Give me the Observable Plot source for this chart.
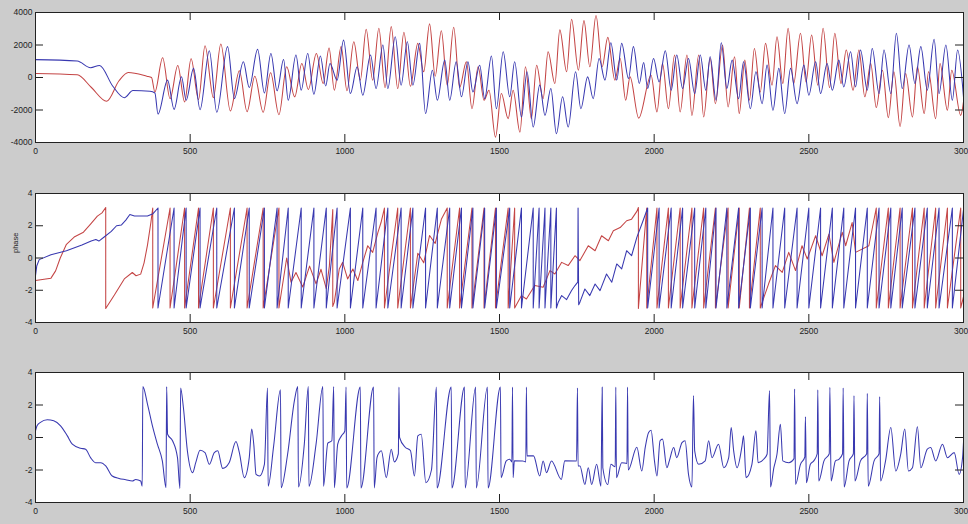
<!DOCTYPE html>
<html>
<head>
<meta charset="utf-8">
<script src="https://cdn.jsdelivr.net/npm/d3@7"></script>
<script src="https://cdn.jsdelivr.net/npm/@observablehq/plot@0.6"></script>
<style>
  html, body { margin: 0; padding: 0; background: #cccccc; }
  #fig { width: 968px; height: 524px; overflow: hidden; background: #cccccc; }
  #fig svg { display: block; }
</style>
</head>
<body>
<div id="fig"></div>
<script>
// ---------- data ----------
const xTicks = [0, 500, 1000, 1500, 2000, 2500, 3000];
const topYTicks = [-4000, -2000, 0, 2000, 4000];
const phaseYTicks = [-4, -2, 0, 2, 4];

// top panel: signal (extrema) [x, value]
const topRed = [[0,250],[135,165],[180,-600],[230,-1460],[270,-200],[300,310],[360,80],[375,0],[386,-890],[411,1215],[435,-1300],[460,740],[482,-1500],[503,1150],[527,-1360],[548,1960],[575,-1240],[599,2060],[630,-2060],[659,410],[684,-2100],[709,80],[736,-2140],[760,290],[787,-2290],[812,660],[838,-1190],[861,865],[882,-740],[908,1480],[930,-370],[949,1820],[966,-780],[988,1900],[1007,-820],[1029,2200],[1050,-160],[1069,2970],[1090,-160],[1110,3030],[1130,-620],[1150,3130],[1171,-680],[1191,2780],[1212,-540],[1236,2100],[1255,350],[1274,3300],[1292,80],[1312,2880],[1331,-470],[1352,3090],[1371,-620],[1393,970],[1411,-1920],[1431,660],[1450,-1400],[1466,-780],[1487,-3670],[1506,-990],[1528,-2530],[1544,-780],[1566,-3360],[1584,660],[1603,-2530],[1620,760],[1641,-1300],[1657,1590],[1679,-370],[1695,2930],[1717,350],[1733,3580],[1755,450],[1773,3500],[1792,660],[1812,3810],[1832,660],[1850,2470],[1873,-160],[1890,1170],[1908,-1400],[1922,40],[1950,-2500],[1990,140],[2009,-2120],[2027,865],[2046,-1920],[2066,1380],[2084,-2120],[2106,1380],[2122,-2330],[2144,1380],[2160,-2430],[2181,1170],[2198,-1610],[2221,2000],[2239,-1810],[2260,1280],[2275,-2220],[2293,1070],[2308,-1400],[2324,1790],[2343,-890],[2360,2100],[2381,-470],[2397,2510],[2416,-370],[2433,3030],[2451,-370],[2473,2720],[2491,-270],[2509,2620],[2529,-470],[2546,3030],[2567,-620],[2584,2720],[2604,-370],[2621,1690],[2643,-780],[2662,1690],[2681,-1190],[2700,865],[2718,-1850],[2738,450],[2757,-2470],[2775,350],[2795,-3010],[2813,250],[2835,-2430],[2851,660],[2873,-2220],[2887,350],[2910,-2530],[2924,865],[2948,-2020],[2962,450],[2991,-2330],[3000,-1500]];

const topBlue = [[0,1100],[135,1010],[178,600],[207,740],[250,-540],[287,-1240],[315,-800],[370,-850],[386,-950],[396,-2250],[427,-160],[448,-1960],[472,40],[487,-1400],[511,560],[532,-1980],[562,1650],[586,-2140],[621,1900],[643,-1300],[672,970],[691,-620],[718,1730],[740,-950],[761,1480],[781,-820],[802,1110],[817,-1400],[842,1380],[859,-780],[880,1480],[900,-1030],[921,1320],[938,-520],[952,865],[975,-160],[996,2300],[1018,-990],[1040,660],[1058,-1090],[1083,1380],[1101,-680],[1123,2000],[1139,-680],[1163,2510],[1182,-470],[1202,2200],[1220,-470],[1242,2100],[1261,-2220],[1283,450],[1299,-1400],[1323,1070],[1339,-1400],[1360,970],[1377,-1190],[1398,970],[1414,-890],[1436,760],[1452,-1300],[1474,1320],[1490,-1920],[1512,1590],[1533,-1190],[1549,970],[1571,-2430],[1589,350],[1609,-3050],[1630,-470],[1647,-2330],[1666,-680],[1684,-3460],[1704,-1190],[1722,-3050],[1746,350],[1763,-1920],[1785,40],[1803,-1300],[1822,1170],[1841,-160],[1860,2140],[1879,-160],[1895,2100],[1917,-60],[1933,1900],[1952,-370],[1966,920],[1979,-680],[1998,1170],[2016,-270],[2036,1650],[2055,-780],[2073,1380],[2092,-680],[2111,1170],[2131,-990],[2149,1380],[2167,-780],[2181,1280],[2200,-1400],[2217,2140],[2235,-680],[2252,1070],[2273,-1300],[2289,970],[2311,-1920],[2329,350],[2349,-1610],[2365,760],[2384,-2020],[2403,560],[2422,-2220],[2441,560],[2462,-1610],[2484,760],[2500,-1090],[2522,970],[2538,-990],[2559,865],[2576,-780],[2597,1070],[2613,-580],[2635,1590],[2651,-580],[2667,1690],[2689,-780],[2705,1790],[2727,-990],[2743,1690],[2765,-990],[2783,2720],[2802,-680],[2824,2000],[2843,-370],[2862,1900],[2883,-780],[2905,2350],[2921,-990],[2943,2000],[2964,-1400],[2981,1690],[3000,-1190]];

// middle panel: phase [x, radians]
const phaseRed = [[0,-1.4],[50,-1.25],[65,-0.8],[80,0],[100,0.85],[125,1.3],[155,1.6],[178,2.1],[200,2.6],[215,2.8],[227,3.13],[227,-3.13],[255,-2.3],[287,-1.3],[313,-0.9],[325,-1.1],[340,-1.0],[351,-0.3],[362,0.8],[373,2.2],[379,3.1],
[379,-3.1],[435,3.1],[435,-3.1],[482,3.1],[482,-3.1],[527,3.1],[527,-3.1],[575,3.1],[575,-3.1],[630,3.1],[630,-3.1],[684,3.1],[684,-3.1],[736,3.1],[736,-3.1],[787,3.1],[787,-3.1],
[812,0.0],[826,-1.5],[842,-0.9],[864,-1.8],[886,-0.5],[907,-1.6],[923,-0.7],[940,-1.9],[950,-0.5],[961,3.0],[961,-3.0],[966,-2.74],[982,-0.68],[993,-0.27],[1009,-1.3],[1026,-0.68],[1042,-1.4],[1058,-0.27],[1074,0.76],[1090,0.35],[1107,1.59],[1117,2.2],[1128,3.1],
[1128,-3.1],[1171,3.1],[1171,-3.1],[1212,3.1],[1212,-3.1],[1236,0.3],[1255,-0.3],[1274,1.4],[1292,0.9],[1312,2.4],[1331,3.1],[1331,-3.1],[1371,3.1],[1371,-3.1],[1411,3.1],[1411,-3.1],[1450,3.1],[1450,-3.1],[1487,3.1],[1487,-3.1],[1528,3.1],[1528,-3.1],[1549,3.1],[1549,-3.1],
[1571,-2.33],[1587,-2.54],[1614,-1.71],[1641,-1.81],[1663,-0.78],[1679,-0.99],[1701,-0.27],[1722,-0.47],[1744,0.14],[1760,-0.16],[1787,0.76],[1809,0.45],[1830,1.38],[1852,1.07],[1868,1.69],[1890,1.89],[1911,2.31],[1927,2.41],[1944,2.89],[1949,3.13],
[1949,-3.13],[1976,3.1],[1976,-3.1],[2009,3.1],[2009,-3.1],[2046,3.1],[2046,-3.1],[2084,3.1],[2084,-3.1],[2122,3.1],[2122,-3.1],[2160,3.1],[2160,-3.1],[2198,3.1],[2198,-3.1],[2239,3.1],[2239,-3.1],[2275,3.1],[2275,-3.1],[2308,3.1],[2308,-3.1],[2343,3.1],[2343,-3.1],
[2370,-1.6],[2392,-0.47],[2414,-0.89],[2435,0.35],[2457,-0.78],[2478,0.76],[2495,-0.06],[2522,1.38],[2543,0.14],[2565,1.48],[2581,-0.27],[2608,1.59],[2619,0.76],[2640,2.2],[2651,0.35],[2694,0.76],[2718,3.1],
[2718,-3.1],[2757,3.1],[2757,-3.1],[2795,3.1],[2795,-3.1],[2835,3.1],[2835,-3.1],[2873,3.1],[2873,-3.1],[2910,3.1],[2910,-3.1],[2948,3.1],[2948,-3.1],[2991,3.1],[2991,-3.1],[3000,-2.4]];

const phaseBlue = [[0,-1.1],[4,-0.5],[12,-0.1],[50,0.2],[100,0.45],[150,0.8],[180,1.05],[195,1.15],[205,1.05],[222,1.3],[245,1.65],[262,2.0],[278,2.05],[292,2.35],[305,2.7],[320,2.6],[362,2.6],[380,2.75],[396,3.1],
[396,-3.1],[448,3.1],[448,-3.1],[487,3.1],[487,-3.1],[532,3.1],[532,-3.1],[586,3.1],[586,-3.1],[643,3.1],[643,-3.1],[691,3.1],[691,-3.1],[740,3.1],[740,-3.1],[781,3.1],[781,-3.1],[817,3.1],[817,-3.1],[859,3.1],[859,-3.1],[900,3.1],[900,-3.1],[940,3.1],[940,-3.1],[975,3.1],[975,-3.1],[1018,3.1],[1018,-3.1],[1058,3.1],[1058,-3.1],[1101,3.1],[1101,-3.1],[1139,3.1],[1139,-3.1],[1182,3.1],[1182,-3.1],[1220,3.1],[1220,-3.1],[1261,3.1],[1261,-3.1],[1299,3.1],[1299,-3.1],[1339,3.1],[1339,-3.1],[1377,3.1],[1377,-3.1],[1414,3.1],[1414,-3.1],[1452,3.1],[1452,-3.1],[1490,3.1],[1490,-3.1],[1533,3.1],[1533,-3.1],[1571,3.1],[1571,-3.1],[1609,3.1],[1609,-3.1],[1628,3.1],[1628,-3.1],[1647,3.1],[1647,-3.1],[1666,3.1],[1666,-3.1],[1684,3.1],[1684,-3.1],
[1690,-2.74],[1701,-2.33],[1717,-2.58],[1733,-2.02],[1744,-1.71],[1753,-1.5],[1754,3.1],[1756,-2.9],[1760,-2.74],[1776,-1.92],[1792,-2.33],[1809,-1.61],[1825,-2.02],[1846,-0.99],[1863,-1.5],[1879,-0.37],[1895,-0.68],[1911,0.45],[1927,0.14],[1944,1.28],[1962,2.2],[1979,3.1],
[1979,-3.1],[2016,3.1],[2016,-3.1],[2055,3.1],[2055,-3.1],[2092,3.1],[2092,-3.1],[2131,3.1],[2131,-3.1],[2167,3.1],[2167,-3.1],[2200,3.1],[2200,-3.1],[2235,3.1],[2235,-3.1],[2273,3.1],[2273,-3.1],[2311,3.1],[2311,-3.1],[2349,3.1],[2349,-3.1],[2384,3.1],[2384,-3.1],[2422,3.1],[2422,-3.1],[2462,3.1],[2462,-3.1],[2500,3.1],[2500,-3.1],[2538,3.1],[2538,-3.1],[2576,3.1],[2576,-3.1],[2613,3.1],[2613,-3.1],[2651,3.1],[2651,-3.1],[2689,3.1],[2689,-3.1],[2727,3.1],[2727,-3.1],[2765,3.1],[2765,-3.1],[2802,3.1],[2802,-3.1],[2843,3.1],[2843,-3.1],[2883,3.1],[2883,-3.1],[2921,3.1],[2921,-3.1],[2964,3.1],[2964,-3.1],[3000,3.0]];

// bottom panel: phase difference [x, radians]
const phaseDiff = [[0,0.4],[5,0.72],[16,0.93],[38,1.09],[59,1.03],[81,0.72],[103,0.1],[119,-0.41],[146,-0.66],[162,-0.72],[178,-1.24],[194,-1.55],[211,-1.55],[227,-1.75],[248,-2.37],[270,-2.52],[292,-2.6],[313,-2.68],[324,-2.58],[340,-2.68],[345,-3.0],[347,3.13],[362,2.06],[378,0.72],[394,-0.41],[410,-1.44],[422,-3.09],[424,3.13],[427,0.2],[443,-0.2],[459,-1.24],[467,-3.13],[469,3.05],[478,1.86],[491,-0.82],[508,-2.16],[518,-1.55],[532,-0.78],[548,-0.93],[562,-1.65],[578,-0.93],[589,-0.82],[605,-1.9],[626,-1.55],[648,-0.25],[659,-0.93],[675,-2.47],[691,-1.24],[699,0.52],[706,-0.5],[713,-2.27],[724,-2.37],[740,-1.65],[750,3.05],[752,-3.0],[770,-0.5],[792,2.93],[794,-3.09],[815,-1.03],[837,2.27],[848,3.13],[850,-3.05],[869,-0.41],[882,3.13],[884,-3.0],[907,-0.41],[929,3.13],[931,-3.0],[945,-0.35],[958,-0.2],[964,3.13],[966,-3.09],[977,-0.41],[989,0.1],[1000,0.4],[1004,3.1],[1006,-3.1],[1050,3.1],[1052,-3.1],[1093,3.1],[1095,-3.1],[1104,-1.24],[1112,-0.9],[1118,-0.82],[1134,-2.47],[1150,-0.72],[1160,-1.5],[1173,-1.0],[1175,3.1],[1177,0.0],[1195,-0.6],[1212,-0.8],[1225,-2.37],[1236,0.1],[1247,0.2],[1262,-2.78],[1280,-2.0],[1296,3.1],[1298,-3.1],[1344,3.1],[1346,-3.1],[1387,3.1],[1389,-3.1],[1423,3.1],[1425,-3.1],[1461,3.1],[1463,-3.1],[1503,3.1],[1505,-2.47],[1522,-1.44],[1533,-1.34],[1540,-1.5],[1542,3.1],[1544,-2.47],[1548,-1.44],[1575,-1.44],[1585,-1.5],[1587,3.1],[1589,-1.13],[1610,-1.13],[1630,-2.37],[1641,-1.44],[1652,-2.16],[1668,-1.44],[1700,-2.58],[1711,-1.44],[1749,-1.44],[1752,3.05],[1754,-1.75],[1760,-1.75],[1776,-2.89],[1787,-1.86],[1798,-2.89],[1814,-1.65],[1828,-3.0],[1832,3.1],[1834,-1.86],[1850,-2.89],[1860,-1.65],[1874,-1.8],[1876,3.1],[1878,-2.47],[1895,-1.55],[1912,-1.6],[1914,3.1],[1916,-2.0],[1944,-0.6],[1960,-2.06],[1971,-0.62],[1982,0.31],[1990,0.45],[2001,-1.44],[2009,-2.37],[2019,-0.2],[2027,-0.1],[2041,-1.86],[2049,-1.44],[2063,-0.62],[2073,-1.24],[2090,-0.31],[2100,-0.2],[2111,-2.27],[2122,-3.05],[2127,2.58],[2131,-0.82],[2144,-1.65],[2165,-1.44],[2176,-0.2],[2187,-1.24],[2208,-0.41],[2225,-1.86],[2241,-1.24],[2249,0.62],[2257,-0.82],[2268,-1.86],[2284,-0.52],[2289,0.1],[2297,-2.47],[2316,-1.65],[2329,0.41],[2336,-1.55],[2354,-1.34],[2365,-1.03],[2373,2.89],[2376,-3.05],[2387,-1.86],[2397,-1.03],[2408,0.82],[2416,-1.44],[2435,-1.55],[2452,-1.3],[2454,2.99],[2457,-2.89],[2473,-1.65],[2487,-1.2],[2489,1.28],[2492,-2.78],[2505,-1.65],[2516,-1.44],[2527,-1.0],[2529,2.93],[2532,-2.68],[2549,-1.44],[2566,-1.0],[2568,3.09],[2572,-2.68],[2586,-1.44],[2597,-1.34],[2609,-1.0],[2611,3.05],[2614,-3.05],[2630,-1.44],[2644,-1.0],[2646,2.58],[2649,-2.68],[2667,-1.44],[2687,-1.0],[2689,2.72],[2692,-3.0],[2711,-1.44],[2727,-1.0],[2729,2.52],[2732,-2.68],[2748,-1.44],[2765,0.62],[2781,-2.06],[2797,-1.03],[2810,0.52],[2822,-2.06],[2835,-1.86],[2851,0.66],[2862,-1.86],[2883,-0.72],[2894,-0.62],[2910,-1.44],[2932,-0.41],[2948,-1.24],[2970,-0.93],[2986,-2.27],[2997,-1.24],[3000,-0.3]];

// ---------- drawing ----------
const RED = "#c44545";
const BLUE = "#3838b0";
const W = 968, ML = 35, MR = 5, TICK = 8;

function panel({series, yDomain, yTicks, height, marginTop, marginBottom, ylabel}) {
  const innerH = height - marginTop - marginBottom;
  const innerW = W - ML - MR;
  const marks = [
    Plot.frame({fill: "white", stroke: "none"}),
    ...series.map(s => Plot.line(s.data, {x: d => d[0], y: d => d[1], stroke: s.color, strokeWidth: 1.05, curve: s.curve, clip: true})),
    // inward ticks (bottom / top / left / right)
    Plot.ruleX(xTicks, {x: d => d, insetTop: innerH - TICK, stroke: "#222", strokeWidth: 1}),
    Plot.ruleX(xTicks, {x: d => d, insetBottom: innerH - TICK, stroke: "#222", strokeWidth: 1}),
    Plot.ruleY(yTicks, {y: d => d, insetRight: innerW - TICK, stroke: "#222", strokeWidth: 1}),
    Plot.ruleY(yTicks, {y: d => d, insetLeft: innerW - TICK, stroke: "#222", strokeWidth: 1}),
    Plot.frame({stroke: "#222", strokeWidth: 1}),
    Plot.axisX({ticks: xTicks, tickSize: 0, tickPadding: 5, tickFormat: d => String(d), label: null}),
    Plot.axisY({ticks: yTicks, tickSize: 0, tickPadding: 3, tickFormat: d => String(d), label: null})
  ];
  if (ylabel) marks.push(Plot.text([ylabel], {text: d => d, frameAnchor: "left", dx: -20, dy: -5, rotate: -90, fill: "#222", fontSize: 7.5}));
  return Plot.plot({
    width: W, height, marginLeft: ML, marginRight: MR, marginTop, marginBottom,
    style: {background: "transparent", fontFamily: "'Liberation Sans', Arial, sans-serif", fontSize: "8.5px", color: "#222", overflow: "visible"},
    x: {domain: [0, 3000]},
    y: {domain: yDomain},
    marks
  });
}

const fig = document.getElementById("fig");
fig.append(panel({
  series: [{data: topRed, color: RED, curve: "monotone-x"}, {data: topBlue, color: BLUE, curve: "monotone-x"}],
  yDomain: [-4000, 4000], yTicks: topYTicks, height: 180, marginTop: 12, marginBottom: 38
}));
fig.append(panel({
  series: [{data: phaseRed, color: RED, curve: "linear"}, {data: phaseBlue, color: BLUE, curve: "linear"}],
  yDomain: [-4, 4], yTicks: phaseYTicks, height: 180, marginTop: 13, marginBottom: 38, ylabel: "phase"
}));
fig.append(panel({
  series: [{data: phaseDiff, color: BLUE, curve: "monotone-x"}],
  yDomain: [-4, 4], yTicks: phaseYTicks, height: 164, marginTop: 12, marginBottom: 22
}));
</script>
</body>
</html>
